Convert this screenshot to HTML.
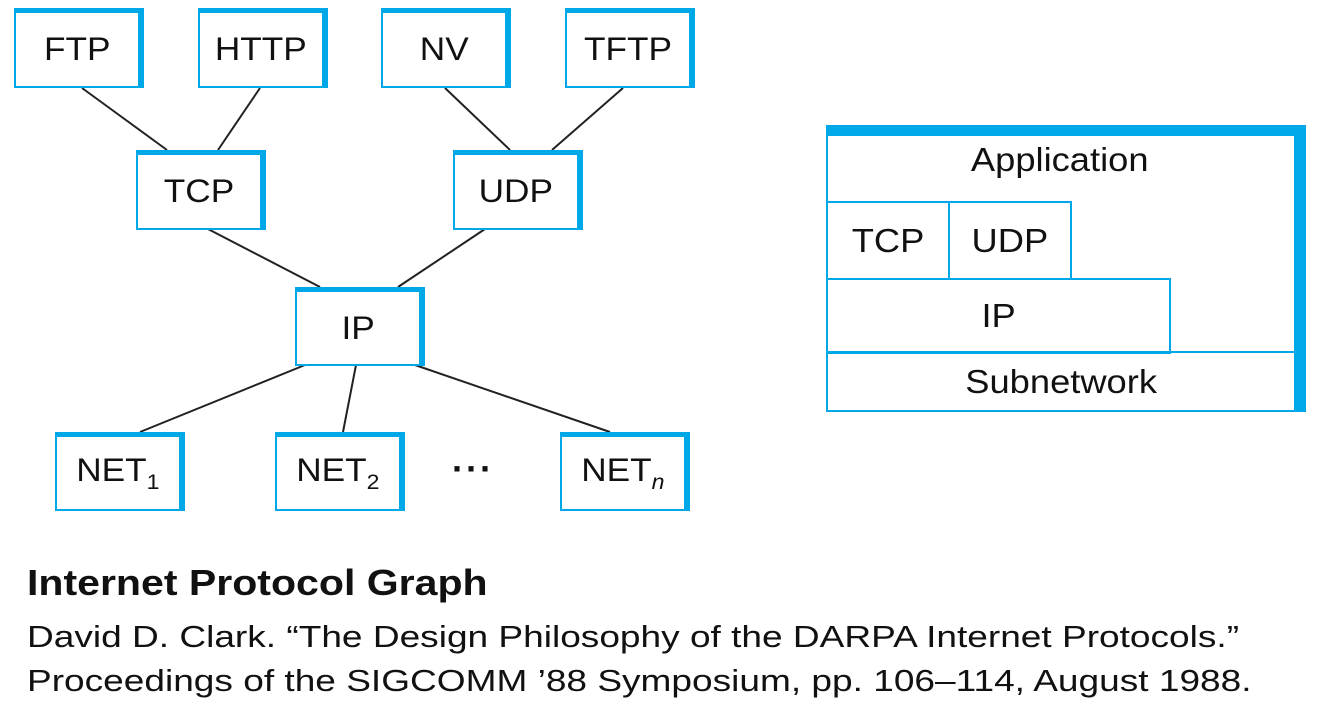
<!DOCTYPE html>
<html><head><style>
body{margin:0;width:1323px;height:703px;background:#fff;position:relative;overflow:hidden;font-family:"Liberation Sans",Arial,sans-serif;color:#111}
.b{position:absolute;box-sizing:border-box;background:#fff;border:2px solid #00a8e8;border-top:5px solid #00a8e8;border-right:6px solid #00a8e8;display:flex;align-items:center;justify-content:center;font-size:32px}
.b span,.c span{display:inline-block;transform:scaleX(1.1)}
.c{position:absolute;box-sizing:border-box;border:2px solid #00a8e8;font-size:33px;display:flex;align-items:center;justify-content:center}
sub{font-size:21px;vertical-align:-8px}
.t{position:absolute;left:27px;white-space:nowrap;transform-origin:0 0}
</style></head><body>
<svg width="1323" height="703" style="position:absolute;left:0;top:0">
<g stroke="#222" stroke-width="2">
<line x1="82" y1="88" x2="167" y2="150"/><line x1="260" y1="88" x2="218" y2="150"/>
<line x1="445" y1="88" x2="510" y2="150"/><line x1="623" y1="88" x2="552" y2="150"/>
<line x1="208" y1="229" x2="320" y2="287"/><line x1="485" y1="229" x2="398" y2="287"/>
<line x1="305" y1="365" x2="140" y2="432"/><line x1="356" y1="365" x2="343" y2="432"/>
<line x1="415" y1="365" x2="610" y2="432"/>
</g></svg>
<div class="b" style="left:14px;top:8px;width:130px;height:80px"><span>FTP</span></div>
<div class="b" style="left:198px;top:8px;width:130px;height:80px"><span>HTTP</span></div>
<div class="b" style="left:381px;top:8px;width:130px;height:80px"><span>NV</span></div>
<div class="b" style="left:565px;top:8px;width:130px;height:80px"><span>TFTP</span></div>
<div class="b" style="left:136px;top:150px;width:130px;height:80px"><span>TCP</span></div>
<div class="b" style="left:453px;top:150px;width:130px;height:80px"><span>UDP</span></div>
<div class="b" style="left:295px;top:287px;width:130px;height:79px"><span>IP</span></div>
<div class="b" style="left:55px;top:432px;width:130px;height:79px"><span>NET<sub>1</sub></span></div>
<div class="b" style="left:275px;top:432px;width:130px;height:79px"><span>NET<sub>2</sub></span></div>
<div class="b" style="left:560px;top:432px;width:130px;height:79px"><span>NET<sub><i>n</i></sub></span></div>
<div style="position:absolute;left:452px;top:448px;font-size:36px;font-weight:bold;letter-spacing:2px">&middot;&middot;&middot;</div>
<div style="position:absolute;left:826px;top:125px;width:480px;height:287px;box-sizing:border-box;border-top:11px solid #00a8e8;border-right:12px solid #00a8e8;border-left:2px solid #00a8e8;border-bottom:2px solid #00a8e8"></div>
<div style="position:absolute;left:826px;top:141px;width:468px;text-align:center;font-size:33px"><span style="display:inline-block;transform:scaleX(1.1)">Application</span></div>
<div class="c" style="left:826px;top:201px;width:124px;height:79px"><span>TCP</span></div>
<div class="c" style="left:948px;top:201px;width:124px;height:79px"><span>UDP</span></div>
<div class="c" style="left:826px;top:278px;width:345px;height:76px"><span>IP</span></div>
<div class="c" style="left:826px;top:351px;width:470px;height:61px"><span>Subnetwork</span></div>
<div class="t" style="top:562px;font-size:36px;font-weight:bold;transform:scaleX(1.14)">Internet Protocol Graph</div>
<div class="t" style="top:619px;font-size:31px;transform:scaleX(1.195)">David D. Clark. “The Design Philosophy of the DARPA Internet Protocols.”</div>
<div class="t" style="top:663px;font-size:31px;transform:scaleX(1.195)">Proceedings of the SIGCOMM ’88 Symposium, pp. 106–114, August 1988.</div>
</body></html>
